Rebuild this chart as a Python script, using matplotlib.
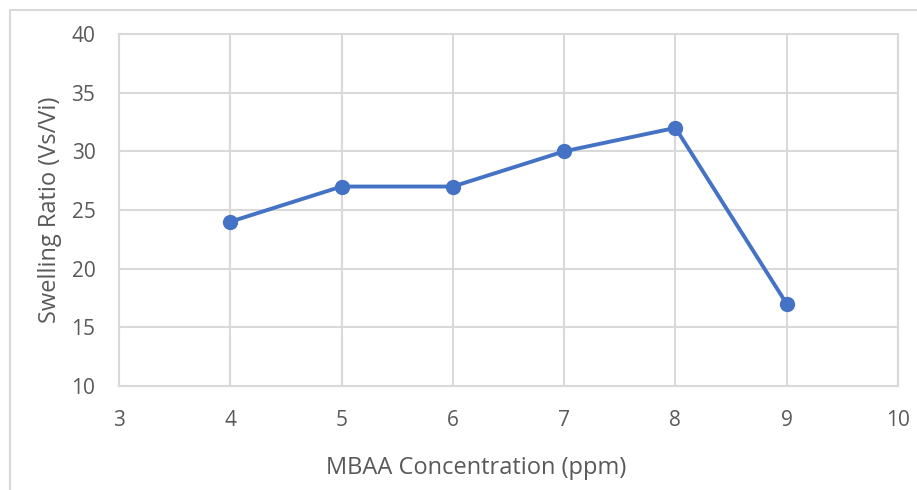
import matplotlib
matplotlib.use("Agg")
import matplotlib.pyplot as plt
from matplotlib.patches import Rectangle

conc = [4, 5, 6, 7, 8, 9]
swelling = [24, 27, 27, 30, 32, 17]
x_ticks = [3, 4, 5, 6, 7, 8, 9, 10]
y_ticks = [10, 15, 20, 25, 30, 35, 40]

plt.rcParams['font.family'] = ['Open Sans', 'DejaVu Sans']
W, H = 917, 490
fig = plt.figure(figsize=(W/100, H/100), dpi=100)
L, R, T, B = 119, 898, 34, 386
ax = fig.add_axes([L/W, 1-B/H, (R-L)/W, (B-T)/H])

grid_c = '#D9D9D9'
txt_c = '#595959'
ax.set_xlim(3, 10)
ax.set_ylim(10, 40)
ax.set_xticks(x_ticks)
ax.set_yticks(y_ticks)
ax.grid(True, color=grid_c, linewidth=1.5)
ax.set_axisbelow(True)
for s in ax.spines.values():
    s.set_color(grid_c)
    s.set_linewidth(1.5)
ax.tick_params(length=0, labelsize=15, colors=txt_c)
ax.tick_params(axis='y', pad=17)
ax.tick_params(axis='x', pad=17)

ax.plot(conc, swelling, color='#4472C4', linewidth=2.8, marker='o',
        markersize=10, markerfacecolor='#4472C4', markeredgecolor='#4472C4', clip_on=False)

ax.set_xlabel('MBAA Concentration (ppm)', fontsize=17, color=txt_c)
ax.set_ylabel('Swelling Ratio (Vs/Vi)', fontsize=17, color=txt_c)
ax.xaxis.set_label_coords((476-L)/(R-L), -(456-B)/(B-T))
ax.yaxis.set_label_coords((62-L)/(R-L), 0.5)

fig.patches.append(Rectangle((10/W, -0.1), 1.2, 1 - 10/H + 0.1, transform=fig.transFigure,
                             fill=False, edgecolor='#D9D9D9', linewidth=1.5))

fig.savefig('out.png', dpi=100)
